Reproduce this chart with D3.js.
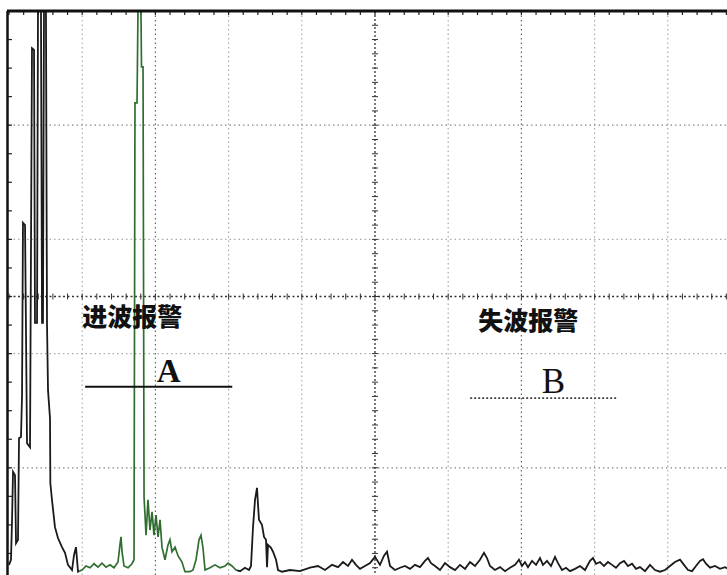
<!DOCTYPE html>
<html>
<head>
<meta charset="utf-8">
<script src="https://cdn.jsdelivr.net/npm/d3@7"></script>
<style>
  html, body { margin: 0; padding: 0; background: #fff; }
  svg { display: block; }
</style>
</head>
<body>
<svg id="scope" width="727" height="575"></svg>
<script>
// A-scan trace: sound path (mm, 10 mm per division) and echo amplitude (% of full screen height)
const pathMM = [
  0, 0.27, 0.41, 0.55, 0.82, 0.96, 1.23, 1.37, 1.64, 1.78, 1.91, 2.19, 2.46, 2.87, 3.14, 3.42, 3.55, 3.83, 3.96, 4.37,
  4.51, 4.64, 4.78, 5.05, 5.19, 5.33, 5.6, 5.65, 5.87, 6.28, 6.69, 7.24, 7.65, 8.06, 8.61, 8.88, 9.15, 9.43,
  9.97, 10.52, 11.07, 11.61, 12.16, 12.7, 13.25, 13.8, 14.34, 14.89, 15.16, 15.3, 15.44, 15.71, 16.26, 16.8, 17.08,
  17.21, 17.49, 17.62, 18.03, 18.1, 18.31, 18.45, 18.72, 18.99, 19.26, 19.54, 19.81, 20.08, 20.36, 20.63, 20.9,
  21.31, 21.72, 21.99, 22.27, 22.68, 23.09, 23.63, 24.04, 24.73, 25.14, 25.55, 25.96, 26.23, 26.5, 26.78, 27.46,
  28.14, 28.83, 29.51, 29.92, 30.46, 31.01,
  31.56, 32.24, 32.79, 33.06, 33.33, 33.61, 33.88, 34.02, 34.15, 34.56, 34.84, 35.11, 35.25, 35.38, 35.79, 36.07,
  36.48, 36.75, 37.3, 38.39,
  39.75, 41.12, 42.21, 43.17, 44.13, 44.95, 45.63, 46.31, 46.86, 47.4, 47.95, 48.63, 49.32, 50.0, 50.68, 51.23,
  51.64, 52.05, 52.73, 53.42, 54.1, 54.78, 55.46, 56.15, 56.83, 57.24, 57.65, 58.2, 58.88, 59.56, 60.25, 60.93,
  61.61, 62.3, 62.98, 63.66, 64.34, 64.89, 65.3, 65.71, 66.39, 67.08, 67.76, 68.44, 69.13, 69.67, 70.08, 70.49,
  70.9, 71.45, 72.0, 72.54, 72.95, 73.5, 74.04, 74.59, 75.0, 75.55, 76.09, 76.64, 77.32, 78.01, 78.69, 79.37,
  79.78, 80.19, 80.74, 81.28, 81.83, 82.38, 82.92, 83.47, 84.02, 84.56, 85.11, 85.66, 86.2, 86.89, 87.57, 88.25,
  88.93, 89.62, 90.3, 90.98, 91.67, 92.21, 92.76, 93.31, 93.85, 94.4, 94.81, 95.22, 95.77, 96.45, 97.13, 97.81, 98.5
];
const amplitude = [
  3.0, 3.9, 10.5, 19.3, 18.7, 6.8, 7.4, 25.2, 25.4, 32.7, 62.9, 62.5, 24.3, 23.6, 93.5, 93.2, 45.4, 45.4, 100, 100,
  45.4, 45.4, 100, 100, 45.4, 33.6, 28.7, 17.3, 14.4, 9.6, 7.7, 6.1, 5.1, 3.0, 2.1, 4.7, 6.1, 1.8,
  2.1, 2.8, 2.5, 3.2, 2.6, 3.3, 2.6, 3.0, 2.5, 3.5, 6.5, 7.9, 5.3, 2.8, 2.5, 3.2, 3.9,
  83.9, 83.9, 100, 100, 90.2, 90.2, 14.9, 8.2, 14.4, 9.1, 12.3, 8.2, 11.7, 7.9, 10.9, 6.1,
  3.9, 6.5, 7.4, 5.3, 6.1, 4.6, 3.5, 1.8, 1.8, 2.1, 3.9, 7.4, 8.2, 6.0, 2.1, 2.5,
  3.0, 2.5, 2.8, 3.3, 2.8, 2.1,
  1.9, 2.5, 2.1, 2.8, 9.5, 14.4, 16.5, 13.5, 10.9, 10.0, 7.9, 7.4, 2.6, 6.5, 6.0, 5.3,
  3.9, 2.1, 1.8, 2.1,
  1.9, 2.5, 2.8, 2.1, 3.0, 2.6, 3.5, 2.8, 3.9, 3.0, 2.3, 2.8, 3.3, 4.4, 3.0, 4.6,
  5.3, 2.8, 2.1, 2.5, 2.8, 2.3, 3.0, 2.6, 3.7, 4.2, 3.3, 2.8, 2.1, 3.3, 2.6, 2.1,
  3.0, 2.3, 3.5, 2.8, 3.9, 5.1, 4.2, 2.8, 2.1, 2.6, 1.9, 2.5, 3.0, 3.9, 2.8, 3.5,
  2.6, 3.7, 3.0, 4.2, 3.0, 3.7, 2.8, 4.4, 3.3, 2.1, 2.5, 1.9, 2.3, 2.8, 2.1, 3.7,
  4.2, 3.2, 3.5, 2.8, 3.5, 3.0, 2.5, 3.3, 3.7, 2.8, 3.2, 2.3, 2.6, 1.9, 3.0, 2.1,
  1.8, 2.1, 2.8, 3.5, 3.9, 3.0, 2.1, 1.9, 2.8, 3.7, 4.0, 3.2, 2.5, 2.8, 2.3, 2.6, 2.1
];

// Alarm gates: A = echo-entry alarm, B = echo-loss alarm
const gateNames = ["A", "B"];
const gateTitles = ["进波报警", "失波报警"];
const gateStart = [10.4, 63.0];  // mm
const gateEnd = [30.5, 83.0];    // mm
const gateLevel = [34.2, 32.2];  // % screen height

// Screen graticule
const xDivisions = d3.range(0, 101, 10);   // mm
const yDivisions = d3.range(0, 101, 20);   // %

const svg = d3.select("#scope");
const x = d3.scaleLinear().domain([0, 100]).range([9, 741]);
const y = d3.scaleLinear().domain([0, 100]).range([582, 11]);

const W = 727, H = 575;

// ---------- graticule ----------
const grid = svg.append("g");
const heavyX = new Set([20, 70]);

xDivisions.filter(d => d > 0 && d < 100).forEach(d => {
  const center = d === 50;
  grid.append("line")
    .attr("x1", x(d)).attr("x2", x(d))
    .attr("y1", y(100)).attr("y2", H)
    .attr("stroke", center ? "#333" : (heavyX.has(d) ? "#666" : "#aaa"))
    .attr("stroke-width", center ? 1.3 : 1.2)
    .attr("stroke-dasharray", center ? "2,2" : "1.5,3");
});

yDivisions.filter(d => d > 0 && d < 100).forEach(d => {
  grid.append("line")
    .attr("x1", x(0)).attr("x2", W)
    .attr("y1", y(d)).attr("y2", y(d))
    .attr("stroke", (d === 80 || d === 20) ? "#888" : "#aaa")
    .attr("stroke-width", 1.2)
    .attr("stroke-dasharray", "1.5,3");
});

// horizontal centre line with minor ticks
grid.append("line")
  .attr("x1", x(0)).attr("x2", W)
  .attr("y1", y(50)).attr("y2", y(50))
  .attr("stroke", "#333").attr("stroke-width", 1.3)
  .attr("stroke-dasharray", "2,2.5");

const minorX = d3.range(0, 100.01, 2);
grid.selectAll(".hTick").data(minorX).join("line")
  .attr("x1", d => x(d)).attr("x2", d => x(d))
  .attr("y1", y(50) - 3).attr("y2", y(50) + 3)
  .attr("stroke", "#333").attr("stroke-width", 1);

const minorY = d3.range(0, 100.01, 2.5);
grid.selectAll(".vTick").data(minorY).join("line")
  .attr("x1", x(50) - 3).attr("x2", x(50) + 3)
  .attr("y1", d => y(d)).attr("y2", d => y(d))
  .attr("stroke", "#333").attr("stroke-width", 1);

// border ticks
grid.selectAll(".topTick").data(minorX).join("line")
  .attr("x1", d => x(d)).attr("x2", d => x(d))
  .attr("y1", y(100)).attr("y2", y(100) + 4)
  .attr("stroke", "#222").attr("stroke-width", 1.2);

const borderY = d3.range(0, 100.01, 5);
grid.selectAll(".leftTick").data(borderY).join("line")
  .attr("x1", x(0) - 2).attr("x2", x(0) + 3)
  .attr("y1", d => y(d)).attr("y2", d => y(d))
  .attr("stroke", "#222").attr("stroke-width", 1.2);

// ---------- trace ----------
const pts = pathMM.map((d, i) => [d, amplitude[i]]);
const line = d3.line().x(d => x(d[0])).y(d => y(d[1]));

const defs = svg.append("defs");
defs.append("clipPath").attr("id", "inGate")
  .append("rect")
  .attr("x", x(gateStart[0]) - 6).attr("y", 0)
  .attr("width", x(gateEnd[0]) - x(gateStart[0]) + 10).attr("height", H);

const outside = defs.append("clipPath").attr("id", "outGate");
outside.append("rect").attr("x", 0).attr("y", 0)
  .attr("width", x(gateStart[0]) - 6).attr("height", H);
outside.append("rect").attr("x", x(gateEnd[0]) + 4).attr("y", 0)
  .attr("width", W).attr("height", H);

svg.append("path").datum(pts)
  .attr("d", line)
  .attr("fill", "none")
  .attr("stroke", "#1a1a1a")
  .attr("stroke-width", 1.8)
  .attr("clip-path", "url(#outGate)");

svg.append("path").datum(pts)
  .attr("d", line)
  .attr("fill", "none")
  .attr("stroke", "#2f6e2f")
  .attr("stroke-width", 1.7)
  .attr("clip-path", "url(#inGate)");

// ---------- frame ----------
svg.append("line")
  .attr("x1", x(0) - 2).attr("x2", W)
  .attr("y1", y(100)).attr("y2", y(100))
  .attr("stroke", "#111").attr("stroke-width", 3);
svg.append("line")
  .attr("x1", x(0) - 1.5).attr("x2", x(0) - 1.5)
  .attr("y1", y(100)).attr("y2", H)
  .attr("stroke", "#111").attr("stroke-width", 2.5);

// ---------- alarm gates ----------
// gate A: solid bar
svg.append("line")
  .attr("x1", x(gateStart[0])).attr("x2", x(gateEnd[0]))
  .attr("y1", y(gateLevel[0])).attr("y2", y(gateLevel[0]))
  .attr("stroke", "#111").attr("stroke-width", 2);

// gate B: dotted bar
svg.append("line")
  .attr("x1", x(gateStart[1])).attr("x2", x(gateEnd[1]))
  .attr("y1", y(gateLevel[1])).attr("y2", y(gateLevel[1]))
  .attr("stroke", "#444").attr("stroke-width", 1.6)
  .attr("stroke-dasharray", "2,2");

const labels = svg.append("g");
// alarm titles
labels.append("text")
  .attr("x", x(gateStart[0]) - 3).attr("y", 315)
  .attr("dominant-baseline", "central")
  .attr("font-family", "'Noto Sans CJK SC', sans-serif")
  .attr("font-weight", 900).attr("font-size", 25)
  .attr("fill", "#111")
  .text(gateTitles[0]);

labels.append("text")
  .attr("x", x(gateStart[1]) + 8).attr("y", 319)
  .attr("dominant-baseline", "central")
  .attr("font-family", "'Noto Sans CJK SC', sans-serif")
  .attr("font-weight", 900).attr("font-size", 25)
  .attr("fill", "#111")
  .text(gateTitles[1]);

// gate letters
labels.append("text")
  .attr("x", (x(gateStart[0]) + x(gateEnd[0])) / 2 + 10).attr("y", 382)
  .attr("text-anchor", "middle")
  .attr("font-family", "'Liberation Serif', serif")
  .attr("font-weight", 700).attr("font-size", 33)
  .attr("fill", "#111")
  .text(gateNames[0]);

labels.append("text")
  .attr("x", (x(gateStart[1]) + x(gateEnd[1])) / 2 + 10).attr("y", 393)
  .attr("text-anchor", "middle")
  .attr("font-family", "'Liberation Serif', serif")
  .attr("font-size", 35)
  .attr("fill", "#111")
  .text(gateNames[1]);
</script>
</body>
</html>
